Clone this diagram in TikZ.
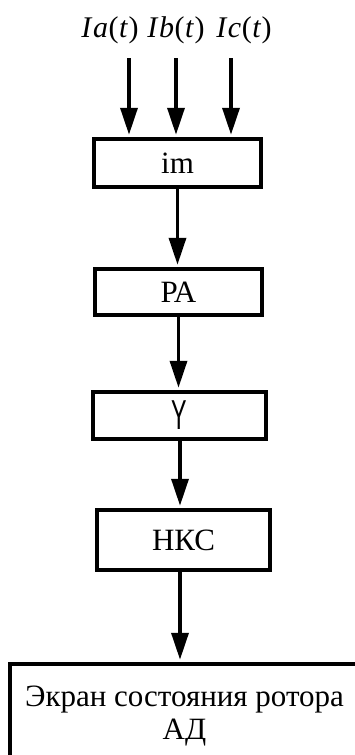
\documentclass[tikz,border=0pt]{standalone}
\usepackage{fontspec}
\setmainfont{Liberation Serif}
\newfontfamily\sansY{Liberation Sans}
\usetikzlibrary{arrows.meta}
\begin{document}
\begin{tikzpicture}[x=1pt,y=-1pt,
  box/.style={draw,line width=4.5pt,inner sep=0pt,font=\fontsize{31}{33}\selectfont},
  arr/.style={line width=3.5pt,-{Triangle[length=27pt,width=17pt]},shorten >=2pt},
  lab/.style={anchor=base,inner sep=0pt,font=\fontsize{30}{33}\selectfont}]
\useasboundingbox (0,0) rectangle (355,755);
\clip (0,0) rectangle (355,755);
\node[box,minimum width=167pt,minimum height=48pt] (im) at (177.5,163) {im};
\node[box,minimum width=167pt,minimum height=46pt] (pa) at (178.5,292) {РА};
\node[box,minimum width=173pt,minimum height=47pt] (y) at (179.5,415.5) {\sansY\scalebox{0.75}[1.35]{Y}};
\node[box,minimum width=173pt,minimum height=60pt] (nks) at (183.5,540) {НКС};
\node[box,minimum width=349pt,minimum height=105pt,align=center] (bot) at (184.5,716.5) {Экран состояния ротора\\АД};
\node[lab] (la) at (110,37) {\textit{I}\kern0.5pt\textit{a}\kern0.5pt(\kern0.5pt\textit{t}\kern0.5pt)};
\node[lab] (lb) at (176,37) {\textit{I}\kern0.5pt\textit{b}\kern0.5pt(\kern0.5pt\textit{t}\kern0.5pt)};
\node[lab] (lc) at (244,37) {\textit{I}\kern0.5pt\textit{c}\kern0.5pt(\kern0.5pt\textit{t}\kern0.5pt)};
\coordinate (sa) at (129,58);
\coordinate (sb) at (176,58);
\coordinate (sc) at (231,58);
\coordinate (ax) at (180,0);
\draw[arr] (sa) -- (sa |- im.north);
\draw[arr] (sb) -- (sb |- im.north);
\draw[arr] (sc) -- (sc |- im.north);
\draw[arr] (im.south) -- (im.south |- pa.north);
\draw[arr] (pa.south) -- (pa.south |- y.north);
\draw[arr] (y.south -| ax) -- (ax |- nks.north);
\draw[arr] (nks.south -| ax) -- (ax |- bot.north);
\end{tikzpicture}
\end{document}
